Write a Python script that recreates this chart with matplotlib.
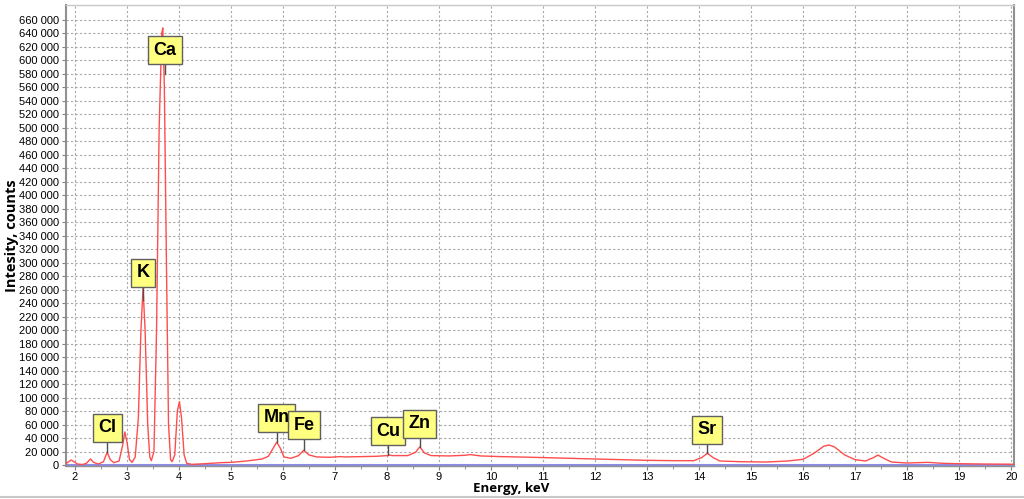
import matplotlib
matplotlib.use('Agg')
import matplotlib.pyplot as plt
from matplotlib.ticker import MultipleLocator, FuncFormatter
from matplotlib.lines import Line2D

# Spectrum (energy in keV, intensity in counts)
energy = [1.83, 1.88, 1.93, 1.98, 2.05, 2.15, 2.22, 2.30, 2.36, 2.45,
          2.55, 2.62, 2.68, 2.75, 2.85, 2.92, 2.96, 3.00, 3.05, 3.10,
          3.16, 3.22, 3.27, 3.31, 3.35, 3.40, 3.44, 3.47, 3.52, 3.57,
          3.62, 3.67, 3.69, 3.72, 3.76, 3.80, 3.84, 3.87, 3.92, 3.97,
          4.01, 4.05, 4.10, 4.15, 4.25, 4.50, 4.80, 5.00, 5.30, 5.60,
          5.72, 5.82, 5.88, 5.95, 6.02, 6.15, 6.30, 6.40, 6.50, 6.65,
          6.90, 7.10, 7.20, 7.50, 7.80, 8.00, 8.04, 8.10, 8.40, 8.55,
          8.63, 8.72, 8.85, 9.20, 9.50, 9.60, 9.80, 10.2, 10.8, 11.5,
          12.0, 12.5, 13.0, 13.5, 13.9, 14.05, 14.16, 14.27, 14.4, 14.8,
          15.3, 15.7, 16.0, 16.2, 16.4, 16.5, 16.6, 16.8, 17.0, 17.2,
          17.35, 17.44, 17.55, 17.7, 18.0, 18.4, 18.7, 19.0, 19.5, 20.06]
counts = [2000, 5000, 7500, 5000, 1500, 800, 2500, 9000, 4000, 1500,
          5000, 19000, 8000, 3500, 6000, 30000, 49000, 35000, 8000, 4000,
          12000, 70000, 200000, 262000, 200000, 60000, 12000, 6500, 20000, 200000,
          500000, 640000, 648000, 560000, 300000, 60000, 8000, 5000, 15000, 80000,
          94000, 70000, 15000, 2500, 1000, 2000, 3500, 4000, 6000, 9000,
          13000, 26000, 34000, 25000, 12000, 10000, 14000, 22000, 15000, 12000,
          11500, 12500, 12000, 12500, 13000, 14000, 15000, 14000, 14000, 19000,
          27000, 18000, 14000, 13500, 14500, 15500, 13500, 12500, 11500, 10000,
          9000, 8000, 7000, 6500, 6500, 11000, 17500, 11000, 6000, 5000,
          4500, 6000, 8500, 17000, 28000, 29700, 27000, 15000, 8000, 6000,
          11000, 14800, 10000, 4500, 3000, 4000, 2500, 2000, 1500, 1200]

# Element labels: name, energy, leader tip (counts), box centre (counts)
elements = ['Cl', 'K', 'Ca', 'Mn', 'Fe', 'Cu', 'Zn', 'Sr']
el_energy = [2.62, 3.31, 3.73, 5.885, 6.40, 8.02, 8.63, 14.15]
el_tip = [19000, 245000, 580000, 34000, 22000, 15000, 27000, 17500]
el_box = [55000, 285000, 615000, 70000, 59000, 50000, 61000, 52000]

y_ticks = list(range(0, 660001, 20000))

fig = plt.figure(figsize=(10.24, 4.99), dpi=100)
ax = fig.add_axes([0.0645, 0.066, 0.926, 0.924])

ax.axhline(0, color='#8C8CE6', lw=2.2, zorder=2)
ax.plot(energy, counts, color='#FF4D4D', lw=1.0, zorder=3)

for i, name in enumerate(elements):
    z = 10 + i
    ax.plot([el_energy[i], el_energy[i]], [el_tip[i], el_box[i]],
            color='#505050', lw=1.0, zorder=z)
    ax.text(el_energy[i], el_box[i], name, ha='center', va='center',
            fontsize=13, fontweight='bold', family='Liberation Sans', zorder=z,
            bbox=dict(boxstyle='square,pad=0.3', fc='#FFFF80', ec='#606060', lw=1.0))

ax.set_xlim(1.83, 20.06)
ax.set_ylim(-1500, 682000)
ax.xaxis.set_major_locator(MultipleLocator(1))
ax.xaxis.set_minor_locator(MultipleLocator(0.5))
ax.set_yticks(y_ticks)
ax.yaxis.set_major_formatter(FuncFormatter(lambda v, p: f'{int(round(v)):,}'.replace(',', ' ')))

ax.grid(True, which='major', color='#A8A8A8', ls=(0, (2, 2)), lw=0.8, zorder=0)
ax.set_axisbelow(True)
ax.tick_params(axis='both', which='both', labelsize=8, color='#808080', length=3, pad=2)
ax.tick_params(axis='x', which='both', pad=1)
ax.tick_params(axis='x', which='minor', length=2)
for lbl in ax.get_xticklabels() + ax.get_yticklabels():
    lbl.set_family('Liberation Sans')

for side, col, w in [('left', '#909090', 1.5), ('bottom', '#909090', 1.0),
                     ('right', '#909090', 1.5), ('top', '#C8C8C8', 1.0)]:
    ax.spines[side].set_color(col)
    ax.spines[side].set_linewidth(w)

ax.set_xlabel('Energy, keV', fontsize=9.5, fontweight='bold', family='Open Sans')
ax.set_ylabel('Intesity, counts', fontsize=10.5, fontweight='bold', family='Open Sans')
ax.xaxis.set_label_coords(0.469, -0.035)
ax.yaxis.set_label_coords(-0.050, 0.5)

fig.add_artist(Line2D([0, 1], [0.004, 0.004], color='#C8C8C8', lw=1.5))

plt.savefig('out.png', dpi=100)
